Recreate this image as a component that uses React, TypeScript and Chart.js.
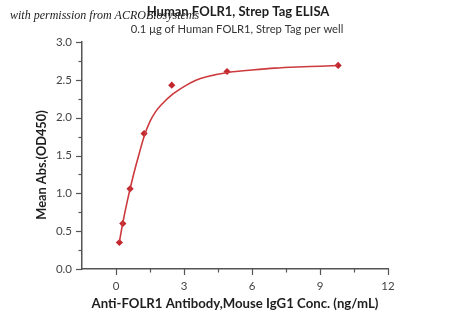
import React, { useEffect, useRef } from 'react';
import { Chart, registerables } from 'chart.js';

Chart.register(...registerables);

// Measured points: concentration (ng/mL) vs mean absorbance
const concentrations = [0.15, 0.3, 0.62, 1.24, 2.46, 4.9, 9.8];
const meanAbs = [0.35, 0.6, 1.06, 1.79, 2.43, 2.61, 2.69];

// Fitted curve
const fitX = [0.15, 0.3, 0.5, 0.75, 1.0, 1.25, 1.5, 1.75, 2.0, 2.5, 3.0, 3.5, 4.0, 5.0, 6.0, 7.0, 8.0, 9.0, 9.8];
const fitY = [0.36, 0.61, 0.9, 1.22, 1.5, 1.76, 1.95, 2.08, 2.17, 2.31, 2.41, 2.49, 2.54, 2.6, 2.63, 2.655, 2.67, 2.68, 2.69];

// Axis ticks
const xMajorTicks = [0, 3, 6, 9, 12];
const xMinorTicks = [1.5, 4.5, 7.5, 10.5];
const yMajorTicks = [0, 0.5, 1.0, 1.5, 2.0, 2.5, 3.0];
const yMinorTicks = [0.25, 0.75, 1.25, 1.75, 2.25, 2.75];

const titleText = 'Human FOLR1, Strep Tag ELISA';
const subtitleText = '0.1 \u03bcg of Human FOLR1, Strep Tag per well';
const yTitleText = 'Mean Abs.(OD450)';
const xTitleText = 'Anti-FOLR1 Antibody,Mouse IgG1 Conc. (ng/mL)';
const watermarkText = 'with permission from ACROBiosystems';

const RED_POINT = '#c1272d';
const RED_LINE = '#cc3a3e';
const AXIS = '#555555';

const decorPlugin = {
  id: 'decor',
  afterDraw(chart: any) {
    const { ctx, scales, chartArea } = chart;
    const x = scales.x;
    const y = scales.y;
    ctx.save();
    ctx.strokeStyle = AXIS;
    ctx.lineWidth = 1.2;
    const tick = (x1: number, y1: number, x2: number, y2: number) => {
      ctx.beginPath();
      ctx.moveTo(x1, y1);
      ctx.lineTo(x2, y2);
      ctx.stroke();
    };
    xMajorTicks.forEach((v) => {
      const px = Math.round(x.getPixelForValue(v)) + 0.5;
      tick(px, chartArea.bottom, px, chartArea.bottom + 6);
    });
    xMinorTicks.forEach((v) => {
      const px = Math.round(x.getPixelForValue(v)) + 0.5;
      tick(px, chartArea.bottom, px, chartArea.bottom + 3.5);
    });
    yMajorTicks.forEach((v) => {
      const py = Math.round(y.getPixelForValue(v)) + 0.5;
      tick(chartArea.left, py, chartArea.left - 6, py);
    });
    yMinorTicks.forEach((v) => {
      const py = Math.round(y.getPixelForValue(v)) + 0.5;
      tick(chartArea.left, py, chartArea.left - 3.5, py);
    });

    ctx.textAlign = 'center';
    ctx.textBaseline = 'middle';
    ctx.fillStyle = '#1e1e1e';
    ctx.font = 'bold 13px Lato';
    ctx.fillText(titleText, 238, 12);
    ctx.fillStyle = '#333333';
    ctx.font = '11.2px Lato';
    ctx.fillText(subtitleText, 237, 29);

    ctx.save();
    ctx.translate(42, 165);
    ctx.rotate(-Math.PI / 2);
    ctx.fillStyle = '#1e1e1e';
    ctx.font = 'bold 12.8px Lato';
    ctx.fillText(yTitleText, 0, 0);
    ctx.restore();

    ctx.textAlign = 'left';
    ctx.fillStyle = '#222222';
    ctx.font = 'italic 12px "Liberation Serif"';
    ctx.fillText(watermarkText, 10, 16);
    ctx.restore();
  },
};

export default function App() {
  const ref = useRef<HTMLCanvasElement | null>(null);
  useEffect(() => {
    if (!ref.current) return;
    Chart.defaults.font.family = 'Lato';
    const chart = new Chart(ref.current, {
      type: 'scatter',
      data: {
        datasets: [
          {
            type: 'line',
            data: fitX.map((v, i) => ({ x: v, y: fitY[i] })),
            borderColor: RED_LINE,
            borderWidth: 1.6,
            pointRadius: 0,
            tension: 0.4,
            cubicInterpolationMode: 'monotone',
            fill: false,
          } as any,
          {
            type: 'scatter',
            data: concentrations.map((v, i) => ({ x: v, y: meanAbs[i] })),
            backgroundColor: RED_POINT,
            borderColor: RED_POINT,
            borderWidth: 0,
            pointStyle: 'rectRot',
            pointRadius: 3.6,
          },
        ],
      },
      options: {
        responsive: false,
        animation: false,
        layout: { padding: { top: 42, right: 62, left: 0, bottom: 0 } },
        plugins: { legend: { display: false }, tooltip: { enabled: false }, title: { display: false } },
        scales: {
          x: {
            type: 'linear',
            min: -1.5,
            max: 12,
            afterBuildTicks: (s: any) => {
              s.ticks = xMajorTicks.map((v) => ({ value: v }));
            },
            afterFit: (s: any) => {
              s.height = 47;
            },
            grid: { drawOnChartArea: false, drawTicks: true, tickLength: 6, color: 'transparent' },
            border: { display: true, color: AXIS, width: 1.5 },
            ticks: { padding: 4, color: '#444', font: { size: 11.5 }, callback: (v: any) => String(v) },
            title: {
              display: true,
              text: xTitleText,
              color: '#1e1e1e',
              font: { size: 13.2, weight: 'bold' },
              padding: { top: 0, bottom: 4 },
            },
          },
          y: {
            type: 'linear',
            min: 0,
            max: 3,
            afterBuildTicks: (s: any) => {
              s.ticks = yMajorTicks.map((v) => ({ value: v }));
            },
            afterFit: (s: any) => {
              s.width = 82;
            },
            grid: { drawOnChartArea: false, drawTicks: true, tickLength: 6, color: 'transparent' },
            border: { display: true, color: AXIS, width: 1.5 },
            ticks: { padding: 4, color: '#444', font: { size: 11.5 }, callback: (v: any) => Number(v).toFixed(1) },
          },
        },
      },
      plugins: [decorPlugin],
    });
    return () => chart.destroy();
  }, []);
  return (
    <div style={{ position: 'absolute', left: 0, top: 0, width: 450, height: 316, background: '#fff' }}>
      <canvas ref={ref} width={450} height={316} />
    </div>
  );
}
